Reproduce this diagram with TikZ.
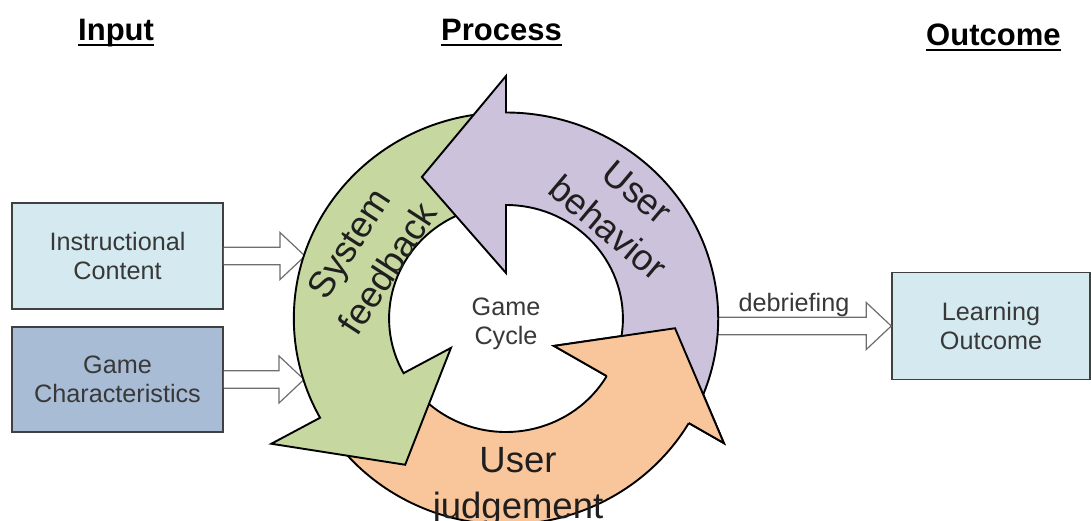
\documentclass[tikz,border=0pt]{standalone}
\usepackage{fontspec}
\setmainfont{Liberation Sans}
\usetikzlibrary{calc}
\definecolor{ringgreen}{HTML}{C6D7A0}
\definecolor{ringpurple}{HTML}{CCC2DC}
\definecolor{ringorange}{HTML}{F9C69B}
\definecolor{boxlight}{HTML}{D4EAF0}
\definecolor{boxdark}{HTML}{A9BCD6}
\definecolor{boxline}{HTML}{404040}
\definecolor{arrowgray}{HTML}{6E6E6E}
\definecolor{textgray}{HTML}{383838}
\newcommand\boxfont{\fontsize{25.2}{29.5}\selectfont}
\newcommand\ringfont{\fontsize{36.5}{46}\selectfont}
\newcommand\hdrfont{\fontsize{31}{36}\selectfont\bfseries}
\newcommand\hollowarrow[2]{%
  \draw[hollow] ($(#1)+(0,-8.7)$) -- ($(#2)+(-25,-8.7)$) -- ($(#2)+(-25,-23.5)$) -- (#2)
    -- ($(#2)+(-25,23.5)$) -- ($(#2)+(-25,8.7)$) -- ($(#1)+(0,8.7)$);}
\newcommand\ringarrow[7]{%
  \draw[ringline, fill=#1] (#2:206) arc[start angle=#2, end angle=#3, radius=206]
    -- (#3:#5) -- (#6:#7) -- (#3:#4) -- (#3:113.5)
    arc[start angle=#3, end angle=#2, radius=113.5] -- cycle;}
\begin{document}
\begin{tikzpicture}[x=1pt,y=-1pt,
  boxnode/.style={draw=boxline, line width=1.5pt, inner sep=0pt, align=center, font=\boxfont, text=textgray},
  hollow/.style={draw=arrowgray, line width=1.2pt, fill=white, line join=miter},
  ringline/.style={draw=black, line width=1.9pt, line join=miter},
  ringlbl/.style={font=\ringfont, align=center, inner sep=0pt, text=black!88},
  midlbl/.style={font=\boxfont, align=center, inner sep=0pt, text=textgray},
  hdr/.style={font=\hdrfont, inner sep=0pt, anchor=base west, text=black},
  ul/.style={line width=2.5pt, black}]
\useasboundingbox (0,0) rectangle (1091,520);
\fill[white] (0,0) rectangle (1091,520);

% headers
\node[hdr] (hin) at (78,40) {Input};
\node[hdr] (hpr) at (441,40) {Process};
\node[hdr] (hout) at (926,45) {Outcome};
\draw[ul] ([yshift=-5pt]hin.base west) -- ([yshift=-5pt]hin.base east);
\draw[ul] ([yshift=-5pt]hpr.base west) -- ([yshift=-5pt]hpr.base east);
\draw[ul] ([yshift=-5pt]hout.base west) -- ([yshift=-5pt]hout.base east);

% boxes
\node[boxnode, fill=boxlight, minimum width=211pt, minimum height=106pt] (ic) at (117.5,256) {Instructional\\Content};
\node[boxnode, fill=boxdark, minimum width=211pt, minimum height=105pt] (gc) at (117.5,379.5) {Game\\Characteristics};
\node[boxnode, fill=boxlight, minimum width=198pt, minimum height=107pt] (lo) at (991,326) {Learning\\Outcome};

% hollow arrows
\coordinate (t1) at (305,256);
\coordinate (t2) at (304,379.5);
\coordinate (db) at (716,326);
\hollowarrow{ic.east}{t1}
\hollowarrow{gc.east}{t2}
\hollowarrow{db}{lo.west}
\node[midlbl, anchor=base] (dbl) at (794,311) {debriefing};

% the cycle
\begin{scope}[shift={(506,318.5)}, yscale=-1, xscale=1.03]
  \ringarrow{ringorange}{211}{329.5}{54}{245.5}{356.6}{164.4}
  \ringarrow{ringgreen}{92}{208.8}{61}{260}{236.2}{176}
  \ringarrow{ringpurple}{331.5}{450}{45.5}{242.5}{480}{163.4}
  \fill[ringorange] (329.5:245.5) -- (356.6:164.4) -- (329.5:54) -- cycle;
  \draw[ringline] (329.5:206) -- (329.5:245.5) -- (356.6:164.4) -- (329.5:54) -- (329.5:113.5);
\end{scope}

% labels
\node[ringlbl, rotate=57] (sf) at (368,256) {System\\feedback};
\node[ringlbl, rotate=-40] (ub) at (622.5,210) {User\\behavior};
\node[ringlbl] (uj) at (518,487) {User\\judgement};
\node[midlbl] (gcy) at (506,324) {Game\\Cycle};
\end{tikzpicture}
\end{document}
